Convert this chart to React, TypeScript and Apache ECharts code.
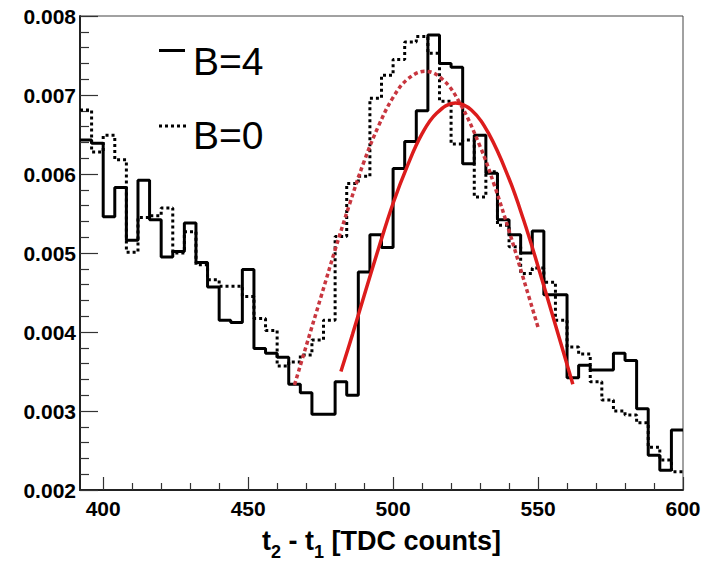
import React, { useEffect, useRef } from "react";
import * as echarts from "echarts";

// Histogram binning (TDC counts)
const binStart = 392;
const binWidth = 4;

// B=4 histogram (solid black), one value per 4-count bin from 392 to 600
const b4Values = [
  0.00643, 0.00639, 0.00546, 0.00583, 0.00516, 0.00592, 0.00542, 0.00495,
  0.00502, 0.00538, 0.00488, 0.00457, 0.00415, 0.00412, 0.00479, 0.00379,
  0.00373, 0.00368, 0.00334, 0.00323, 0.00296, 0.00296, 0.00337, 0.0032,
  0.00476, 0.00523, 0.00507, 0.00607, 0.00641, 0.0068, 0.00776, 0.0074,
  0.00735, 0.00613, 0.00649, 0.00601, 0.00542, 0.00523, 0.005, 0.00528,
  0.00447, 0.00447, 0.00342, 0.00358, 0.00352, 0.00352, 0.00373, 0.00364,
  0.00303, 0.00244, 0.00225, 0.00276,
];

// B=0 histogram (dotted black)
const b0Values = [
  0.00681, 0.00628, 0.00649, 0.00618, 0.00501, 0.00545, 0.00547, 0.00557,
  0.005, 0.00527, 0.00485, 0.00466, 0.00458, 0.00458, 0.00445, 0.00417,
  0.00402, 0.00357, 0.00362, 0.00371, 0.0039, 0.00415, 0.00521, 0.00588,
  0.00597, 0.00696, 0.00725, 0.00745, 0.00767, 0.00774, 0.00753, 0.00692,
  0.00638, 0.00643, 0.00571, 0.00603, 0.00535, 0.00508, 0.00474, 0.00481,
  0.00463, 0.00415, 0.00381, 0.00372, 0.00337, 0.00314, 0.003, 0.00295,
  0.00285, 0.00254, 0.00238, 0.00223,
];

// Fit curve for B=4 (solid red)
const fitB4X = [482, 486, 490, 495, 500, 505, 510, 515, 521.5, 527, 533, 540, 545, 550, 556, 562];
const fitB4Y = [
  0.0035, 0.00397, 0.00446, 0.00506, 0.00563, 0.00611, 0.00651, 0.00677,
  0.0069, 0.00681, 0.00651, 0.00594, 0.00542, 0.00483, 0.00409, 0.00334,
];

// Fit curve for B=0 (dotted red)
const fitB0X = [466, 470, 475, 480, 485, 490, 495, 500, 505, 511, 517, 523, 530, 535, 540, 545, 550];
const fitB0Y = [
  0.00333, 0.00382, 0.00443, 0.00504, 0.00562, 0.00616, 0.00661, 0.00697,
  0.0072, 0.0073, 0.0072, 0.0069, 0.00635, 0.00585, 0.00528, 0.00467, 0.00406,
];

// Axis ticks
const xMajorTicks = [400, 450, 500, 550, 600];
const xMinorTicks = [410, 420, 430, 440, 460, 470, 480, 490, 510, 520, 530, 540, 560, 570, 580, 590];
const xMin = 392;
const xMax = 600;
const yMin = 0.002;
const yMax = 0.008;
const yStep = 0.001;

const legendLabels = ["B=4", "B=0"];

function histData(values: number[]) {
  const d: number[][] = values.map((v, i) => [binStart + i * binWidth, v]);
  d.push([binStart + values.length * binWidth, values[values.length - 1]]);
  return d;
}

function curveData(xs: number[], ys: number[]) {
  return xs.map((x, i) => [x, ys[i]]);
}

const FONT = "Liberation Sans, Arial, Helvetica, sans-serif";

export default function App() {
  const ref = useRef<HTMLDivElement>(null);

  useEffect(() => {
    if (!ref.current) return;
    const chart = echarts.init(ref.current, null, { renderer: "svg" });

    const option: any = {
      animation: false,
      backgroundColor: "#ffffff",
      grid: {
        left: 80,
        right: 22,
        top: 16,
        bottom: 72,
        show: true,
        borderColor: "#444",
        borderWidth: 1,
        containLabel: false,
        outerBoundsMode: "none",
      },
      xAxis: [
        {
          type: "value",
          min: xMin,
          max: xMax,
          position: "bottom",
          splitLine: { show: false },
          axisLine: { show: true, onZero: false, lineStyle: { color: "#222", width: 2 } },
          axisTick: {
            show: true,
            inside: true,
            length: 13,
            customValues: xMajorTicks,
            lineStyle: { color: "#333", width: 1.2 },
          },
          axisLabel: {
            show: true,
            customValues: xMajorTicks,
            margin: 8,
            color: "#000",
            fontFamily: FONT,
            fontWeight: "bold",
            fontSize: 21,
          },
          name:
            "{t|t}{s|2}{t| - t}{s|1}{t| [TDC counts]}",
          nameLocation: "middle",
          nameGap: 31,
          nameTextStyle: {
            rich: {
              t: {
                fontFamily: FONT,
                fontWeight: "bold",
                fontSize: 27,
                color: "#000",
                lineHeight: 40,
                verticalAlign: "middle",
              },
              s: {
                fontFamily: FONT,
                fontWeight: "bold",
                fontSize: 18,
                color: "#000",
                lineHeight: 40,
                verticalAlign: "bottom",
              },
            },
          },
        },
        {
          type: "value",
          min: xMin,
          max: xMax,
          position: "bottom",
          splitLine: { show: false },
          axisLine: { show: false, onZero: false },
          axisLabel: { show: false },
          axisTick: {
            show: true,
            inside: true,
            length: 7,
            customValues: xMinorTicks,
            lineStyle: { color: "#333", width: 1.2 },
          },
        },
      ],
      yAxis: {
        type: "value",
        min: yMin,
        max: yMax,
        interval: yStep,
        splitLine: { show: false },
        axisLine: { show: true, onZero: false, lineStyle: { color: "#222", width: 2 } },
        axisTick: { show: true, inside: true, length: 18, lineStyle: { color: "#333", width: 1.2 } },
        minorTick: { show: true, splitNumber: 5, length: 9, lineStyle: { color: "#333", width: 1.2 } },
        axisLabel: {
          margin: 4,
          color: "#000",
          fontFamily: FONT,
          fontWeight: "bold",
          fontSize: 21,
          formatter: (v: number) => v.toFixed(3),
        },
      },
      series: [
        {
          name: legendLabels[1],
          type: "line",
          step: "end",
          xAxisIndex: 0,
          data: histData(b0Values),
          showSymbol: false,
          symbol: "none",
          lineStyle: { color: "#000", width: 3, type: [3, 3], cap: "butt" },
          z: 2,
        },
        {
          name: legendLabels[0],
          type: "line",
          step: "end",
          xAxisIndex: 0,
          data: histData(b4Values),
          showSymbol: false,
          symbol: "none",
          lineStyle: { color: "#000", width: 3 },
          z: 3,
        },
        {
          name: "fit B=0",
          type: "line",
          smooth: 0.4,
          xAxisIndex: 0,
          data: curveData(fitB0X, fitB0Y),
          showSymbol: false,
          symbol: "none",
          lineStyle: { color: "#c8363f", width: 3.5, type: [4, 3] },
          z: 4,
        },
        {
          name: "fit B=4",
          type: "line",
          smooth: 0.4,
          xAxisIndex: 0,
          data: curveData(fitB4X, fitB4Y),
          showSymbol: false,
          symbol: "none",
          lineStyle: { color: "#dc1c1c", width: 3.5 },
          z: 5,
        },
      ],
      graphic: [
        {
          type: "line",
          shape: { x1: 159, y1: 50.5, x2: 185, y2: 50.5 },
          style: { stroke: "#000", lineWidth: 3 },
        },
        {
          type: "text",
          x: 193,
          y: 61,
          style: {
            text: legendLabels[0],
            fill: "#000",
            font: `normal 39px ${FONT}`,
            verticalAlign: "middle",
            align: "left",
          },
        },
        {
          type: "line",
          shape: { x1: 159, y1: 126, x2: 188, y2: 126 },
          style: { stroke: "#000", lineWidth: 3, lineDash: [3, 3] },
        },
        {
          type: "text",
          x: 193,
          y: 135,
          style: {
            text: legendLabels[1],
            fill: "#000",
            font: `normal 39px ${FONT}`,
            verticalAlign: "middle",
            align: "left",
          },
        },
      ],
    };

    chart.setOption(option);
    return () => chart.dispose();
  }, []);

  return (
    <div
      ref={ref}
      style={{ position: "fixed", left: 0, top: 0, width: 705, height: 562, background: "#fff" }}
    />
  );
}
